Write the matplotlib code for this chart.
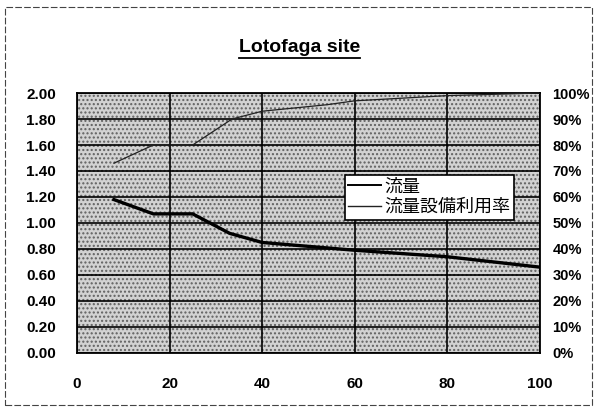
import matplotlib
matplotlib.use("Agg")
import matplotlib.pyplot as plt
from matplotlib.patches import Rectangle
from matplotlib.lines import Line2D
from matplotlib.ticker import FuncFormatter

plt.rcParams['font.family'] = ['Liberation Sans', 'Noto Sans CJK JP', 'DejaVu Sans']

# Flow duration curve (percentage of time exceeded vs. flow)
flow_x = [8, 16.5, 25, 33, 40, 60, 80, 100]
flow_y = [1.18, 1.07, 1.07, 0.92, 0.85, 0.79, 0.74, 0.66]

# Facility utilisation ratio of the flow (right axis)
util_x = [8, 16.5, 25, 33.5, 40, 54, 60, 80, 100]
util_y = [0.73, 0.80, 0.80, 0.90, 0.93, 0.955, 0.97, 0.99, 1.00]

x_ticks = [0, 20, 40, 60, 80, 100]
left_ticks = [0.0, 0.2, 0.4, 0.6, 0.8, 1.0, 1.2, 1.4, 1.6, 1.8, 2.0]
right_ticks = [0.0, 0.1, 0.2, 0.3, 0.4, 0.5, 0.6, 0.7, 0.8, 0.9, 1.0]

title = "Lotofaga site"
label_flow = "流量"
label_util = "流量設備利用率"

fig = plt.figure(figsize=(5.96, 4.08), dpi=100)
fig.patch.set_facecolor("white")

ax = fig.add_axes([0.129, 0.135, 0.777, 0.637])
ax.set_facecolor("#d2d2d2")
bg = Rectangle((0, 0), 1, 1, transform=ax.transAxes, facecolor="none",
               edgecolor="#606060", hatch="....", linewidth=0, zorder=0.5)
ax.add_patch(bg)

ax.set_xlim(0, 100)
ax.set_ylim(0, 2.0)
ax.set_xticks(x_ticks)
ax.set_yticks(left_ticks)
ax.yaxis.set_major_formatter(FuncFormatter(lambda v, p: f"{v:.2f}"))
ax.grid(True, color="black", linewidth=1.2, zorder=1)
ax.set_axisbelow(False)
for s in ax.spines.values():
    s.set_linewidth(1.3)
    s.set_color("black")
ax.tick_params(length=0, labelsize=11, pad=15)
ax.tick_params(axis="x", pad=17)
for t in ax.get_xticklabels() + ax.get_yticklabels():
    t.set_fontweight("bold")

h1, = ax.plot(flow_x, flow_y, color="black", linewidth=2.4, zorder=3, label=label_flow)

ax2 = ax.twinx()
ax2.set_ylim(0, 1.0)
ax2.set_yticks(right_ticks)
ax2.yaxis.set_major_formatter(FuncFormatter(lambda v, p: f"{v*100:.0f}%"))
ax2.tick_params(length=0, labelsize=10.5, pad=9)
for t in ax2.get_yticklabels():
    t.set_fontweight("bold")
for s in ax2.spines.values():
    s.set_visible(False)
h2, = ax2.plot(util_x, util_y, color="#222222", linewidth=0.9, zorder=3, label=label_util)

leg = ax2.legend([h1, h2], [label_flow, label_util], loc="upper left",
                 bbox_to_anchor=(0.578, 0.685), frameon=True, fancybox=False,
                 edgecolor="black", framealpha=1.0, fontsize=13,
                 handlelength=1.8, handletextpad=0.2, borderpad=0.2,
                 labelspacing=0.2, borderaxespad=0)
leg.get_frame().set_linewidth(1.2)
leg.legend_handles[1].set_linewidth(1.0)
leg.legend_handles[0].set_linewidth(1.4)

# Underlined chart title
tt = fig.text(0.503, 0.872, title, ha="center", va="baseline",
              fontsize=14, fontweight="bold")
fig.canvas.draw()
bb = tt.get_window_extent().transformed(fig.transFigure.inverted())
fig.add_artist(Line2D([bb.x0, bb.x1], [bb.y0 - 0.004, bb.y0 - 0.004],
                      transform=fig.transFigure, color="black", linewidth=1.3))

# Dashed outer frame of the chart object
fig.add_artist(Rectangle((0.009, 0.008), 0.985, 0.975, transform=fig.transFigure,
                         fill=False, edgecolor="#444444", linewidth=0.8,
                         linestyle=(0, (6, 2))))

fig.savefig("out.png", dpi=100)
